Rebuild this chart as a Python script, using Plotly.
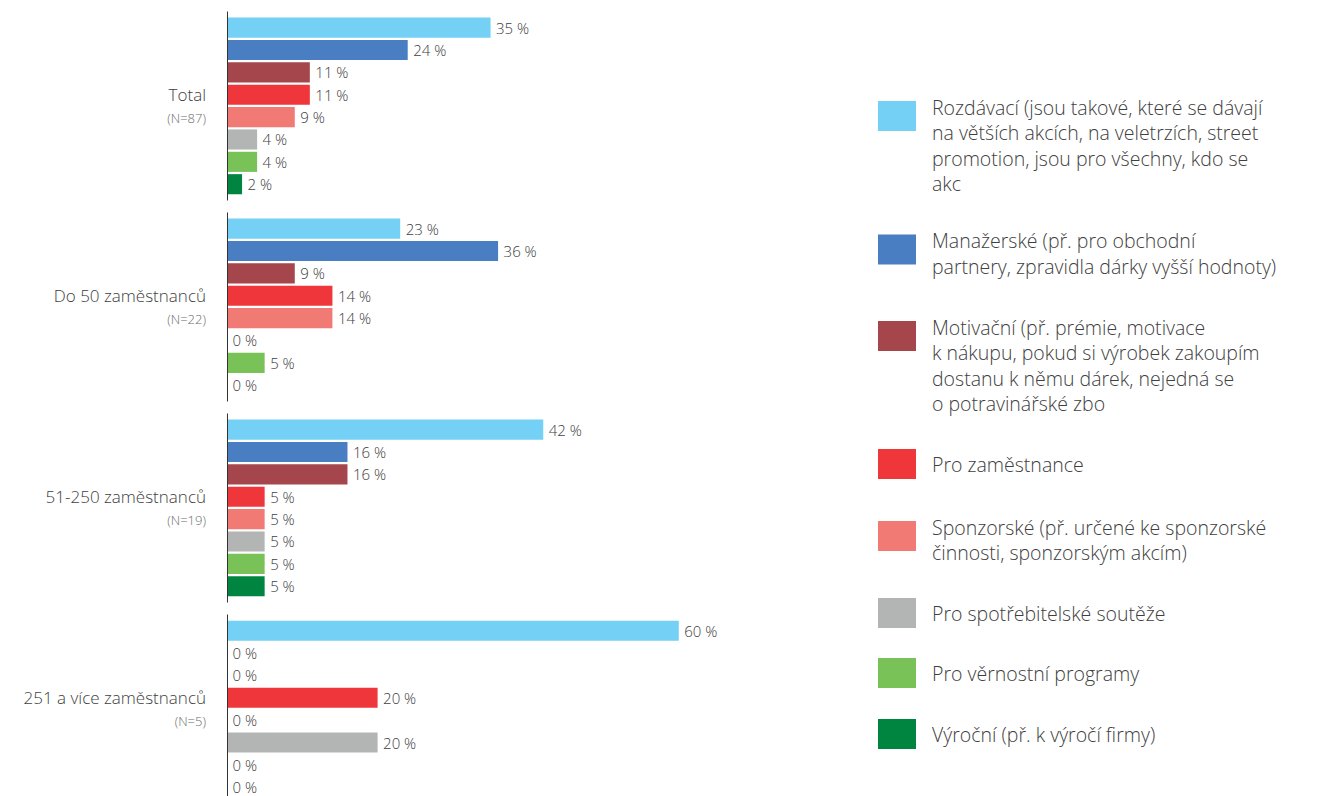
import plotly.graph_objects as go

# ---- data ----
groups = ["Total", "Do 50 zaměstnanců", "51-250 zaměstnanců", "251 a více zaměstnanců"]
group_n = ["(N=87)", "(N=22)", "(N=19)", "(N=5)"]

series_names = [
    "Rozdávací (jsou takové, které se dávají<br>na větších akcích, na veletrzích, street<br>promotion, jsou pro všechny, kdo se<br>akc",
    "Manažerské (př. pro obchodní<br>partnery, zpravidla dárky vyšší hodnoty)",
    "Motivační (př. prémie, motivace<br>k nákupu, pokud si výrobek zakoupím<br>dostanu k němu dárek, nejedná se<br>o potravinářské zbo",
    "Pro zaměstnance",
    "Sponzorské (př. určené ke sponzorské<br>činnosti, sponzorským akcím)",
    "Pro spotřebitelské soutěže",
    "Pro věrnostní programy",
    "Výroční (př. k výročí firmy)",
]
series_colors = ["#74D0F5", "#4A7EC2", "#A5464C", "#EF363A", "#F27A75", "#B3B5B5", "#78C257", "#008540"]

rozdavaci     = [35, 23, 42, 60]
manazerske    = [24, 36, 16, 0]
motivacni     = [11, 9, 16, 0]
zamestnance   = [11, 14, 5, 20]
sponzorske    = [9, 14, 5, 0]
souteze       = [4, 0, 5, 20]
vernostni     = [4, 5, 5, 0]
vyrocni       = [2, 0, 5, 0]
series_values = [rozdavaci, manazerske, motivacni, zamestnance, sponzorske, souteze, vernostni, vyrocni]

# ---- layout constants ----
W, H = 1320, 796
ML, MR = 227, 520
PW = W - ML - MR
TXT = "#404040"
FONT = "'Open Sans', 'Noto Sans', sans-serif"
LEG_FS = 19.5
LINE_H = LEG_FS * 1.31

ticktext = [f"{g}<br><span style='font-size:13px;color:#6b6b6b'>{n}</span>" for g, n in zip(groups, group_n)]

fig = go.Figure()
for name, vals, col in zip(series_names, series_values, series_colors):
    fig.add_trace(go.Bar(
        y=groups, x=vals, orientation="h", name=name.replace("<br>", " "),
        marker=dict(color=col, line=dict(width=0)),
        text=[f"\u2009{v} %" for v in vals], textposition="outside",
        textfont=dict(size=15, color=TXT, family=FONT, weight=300),
        cliponaxis=False, showlegend=False,
    ))

# axis segments per group
for i in range(len(groups)):
    fig.add_shape(type="line", xref="x", yref="y", x0=0, x1=0, y0=i - 0.47, y1=i + 0.47,
                  line=dict(color="#333333", width=2))

# manual legend (big squares)
sq_centers = [116, 249.5, 336, 464, 536, 613, 673, 734]
def px_x(px):
    return (px - ML) / PW
def px_y(py):
    return 1 - py / H
for name, col, cy in zip(series_names, series_colors, sq_centers):
    fig.add_shape(type="rect", xref="paper", yref="paper",
                  x0=px_x(878), x1=px_x(916), y0=px_y(cy - 15), y1=px_y(cy + 15),
                  fillcolor=col, line=dict(width=0))
    lines = name.split("<br>")
    first = cy if len(lines) == 1 else cy - 9
    for k, ln in enumerate(lines):
        fig.add_annotation(xref="paper", yref="paper", x=px_x(930), y=px_y(first + k * LINE_H),
                           xanchor="left", yanchor="middle", align="left", showarrow=False,
                           text=ln, font=dict(size=LEG_FS, color=TXT, family=FONT, weight=300))

fig.update_layout(
    width=W, height=H,
    margin=dict(l=ML, r=MR, t=0, b=0),
    barmode="group", bargap=0.11, bargroupgap=0.1,
    plot_bgcolor="white", paper_bgcolor="white",
    font=dict(family=FONT, color=TXT),
    xaxis=dict(range=[0, PW / 7.53], visible=False, showgrid=False, zeroline=False),
    yaxis=dict(type="category", range=[3.433, -0.527], tickmode="array",
               tickvals=groups, ticktext=ticktext, showgrid=False, zeroline=False,
               showline=False, ticks="", ticklabelstandoff=20,
               tickfont=dict(size=17, color=TXT, family=FONT, weight=300)),
)

fig.write_html("out.html")
